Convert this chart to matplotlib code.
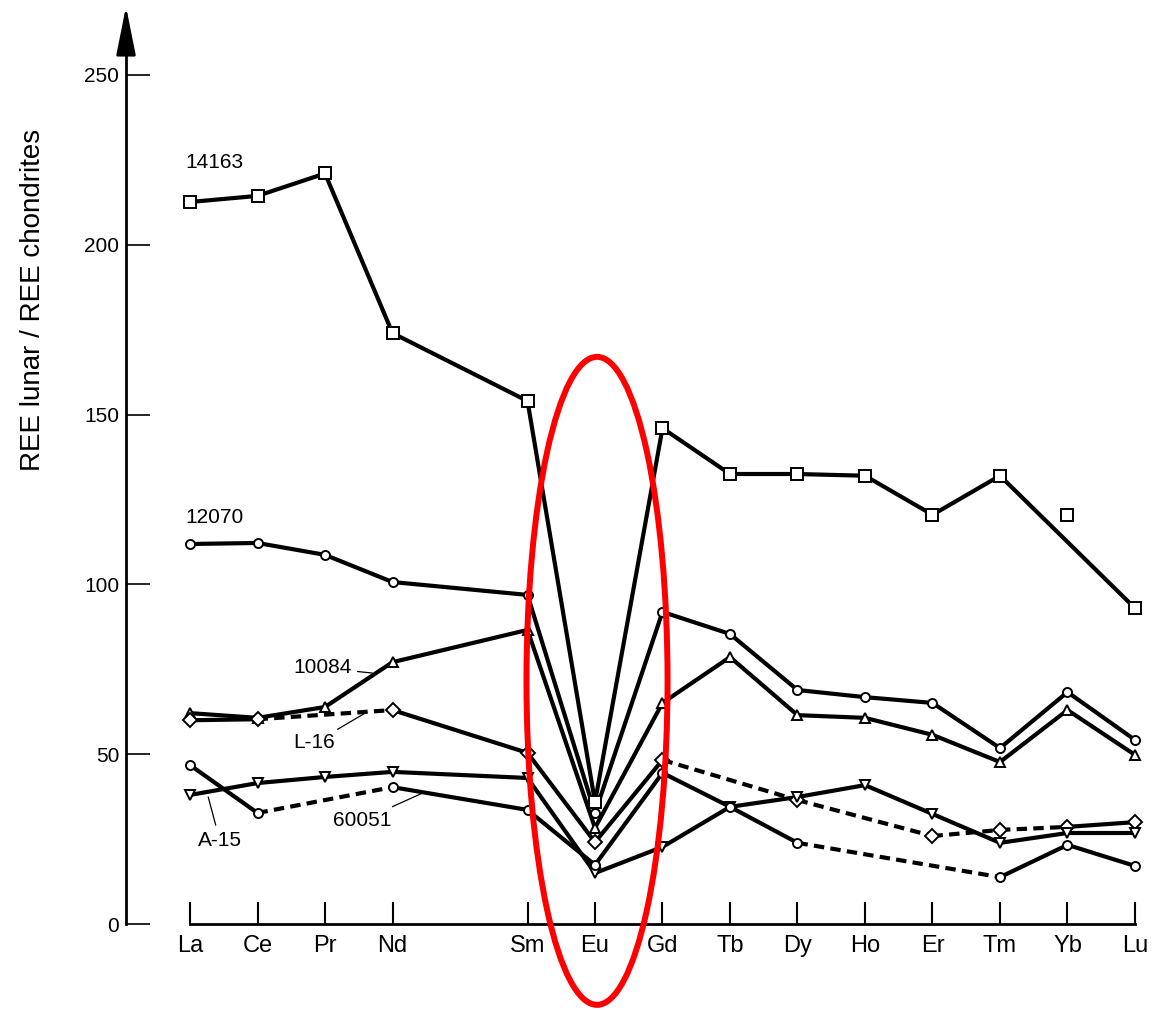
import numpy as np
import matplotlib.pyplot as plt
from matplotlib.patches import Ellipse

plt.rcParams.update({"font.family": ["Liberation Sans", "DejaVu Sans"], "font.size": 16})

nan = np.nan

ELEMENTS = ["La", "Ce", "Pr", "Nd", "Sm", "Eu", "Gd", "Tb", "Dy", "Ho", "Er", "Tm", "Yb", "Lu"]
Z = [57, 58, 59, 60, 62, 63, 64, 65, 66, 67, 68, 69, 70, 71]

ree_14163 = [212.6, 214.4, 221.0, 174.0, 154.0, 35.9, 146.0, 132.5, 132.5, 132.0, 120.5, 132.0, nan, 93.0]
ree_14163_yb = 120.5  # plotted on its own, not joined to the line
ree_12070 = [111.9, 112.2, 108.7, 100.7, 96.9, 32.7, 91.9, 85.4, 68.9, 66.8, 65.1, 51.8, 68.3, 54.2]
ree_10084 = [62.1, 60.7, 63.9, 77.1, 86.6, 28.3, 65.1, 78.6, 61.5, 60.7, 55.7, 47.7, 63.0, 49.8]
ree_L16 = [60.0, 60.3, nan, 63.0, 50.4, 24.1, 48.3, nan, 36.5, nan, 25.9, 27.7, 28.6, 30.0]
ree_A15 = [38.0, 41.5, 43.3, 44.8, 43.0, 15.0, 22.7, 34.5, 37.4, 40.9, 32.4, 23.9, 26.8, 26.8]
ree_60051 = [46.8, 32.7, nan, 40.3, 33.6, 17.4, 44.5, 34.5, 23.9, nan, nan, 13.8, 23.3, 17.1]

# values, marker, marker size, index ranges drawn dashed
SERIES = [
    (ree_14163, "s", 8.5, []),
    (ree_12070, "o", 6.5, []),
    (ree_10084, "^", 7.5, []),
    (ree_L16, "D", 7.5, [(1, 3), (6, 12)]),
    (ree_A15, "v", 7.5, []),
    (ree_60051, "o", 6.5, [(1, 3), (8, 11)]),
]


def draw_series(ax, values, marker, ms, dashed):
    x = np.array(Z, float)
    y = np.array(values, float)
    idx = np.flatnonzero(~np.isnan(y))
    for a, b in zip(idx[:-1], idx[1:]):
        is_dashed = any(lo <= a and b <= hi for lo, hi in dashed)
        ax.plot(x[[a, b]], y[[a, b]], color="black", lw=3,
                ls=(0, (2.5, 1.5)) if is_dashed else "-",
                solid_capstyle="round", zorder=2)
    ax.plot(x, y, ls="none", marker=marker, ms=ms, mfc="white",
            mec="black", mew=1.4, zorder=3)


fig = plt.figure(figsize=(11.52, 10.10), dpi=100)
ax = fig.add_axes([0, 0, 1, 1])
ax.set_xlim(54.185, 71.252)
ax.set_ylim(-25.32, 272.08)

for series in SERIES:
    draw_series(ax, *series)
ax.plot(Z[12], ree_14163_yb, ls="none", marker="s", ms=8.5, mfc="white",
        mec="black", mew=1.4, zorder=3)

# axes drawn as in the printed figure: y axis with arrow, element axis from La to Lu
ax.spines["top"].set_visible(False)
ax.spines["right"].set_visible(False)
ax.spines["left"].set_position(("data", 56.052))
ax.spines["left"].set_bounds(0, 262)
ax.spines["left"].set_linewidth(2)
ax.spines["bottom"].set_position(("data", 0))
ax.spines["bottom"].set_bounds(57, 71)
ax.spines["bottom"].set_linewidth(2)

ax.set_xticks(Z, ELEMENTS)
ax.set_yticks([0, 50, 100, 150, 200, 250])
ax.tick_params(axis="y", direction="in", length=17, width=1.2, pad=5, labelsize=15)
ax.tick_params(axis="x", direction="in", length=16, width=1.5, pad=8, labelsize=17)

ax.annotate("", xy=(56.052, 271), xytext=(56.052, 255), annotation_clip=False,
            arrowprops=dict(arrowstyle="-|>,head_length=1.5,head_width=0.3",
                            mutation_scale=20, color="black", lw=2))

fig.text(33 / 1152, 1 - 300 / 1010, "REE lunar / REE chondrites",
         rotation=90, ha="center", va="center", fontsize=20)

# sample names
ax.text(56.926, 224.1, "14163", ha="left", va="center", fontsize=15)
ax.text(56.926, 119.6, "12070", ha="left", va="center", fontsize=15)
leader = dict(arrowstyle="-", lw=0.9, color="black", shrinkA=2, shrinkB=0)
ax.annotate("10084", xy=(59.70, 73.9), xytext=(59.40, 75.4), ha="right",
            va="center", fontsize=15, arrowprops=leader)
ax.annotate("L-16", xy=(59.62, 62.4), xytext=(59.15, 53.3), ha="right",
            va="center", fontsize=15, arrowprops=leader)
ax.annotate("A-15", xy=(57.27, 37.4), xytext=(57.44, 24.7), ha="center",
            va="center", fontsize=15, arrowprops=leader)
ax.annotate("60051", xy=(60.45, 38.6), xytext=(59.99, 30.6), ha="right",
            va="center", fontsize=15, arrowprops=leader)

# Eu anomaly highlight
ax.add_patch(Ellipse((63.03, 71.6), 2.09, 190.8, fill=False, edgecolor="#ff0000",
                     lw=4.3, zorder=5, clip_on=False))

fig.savefig("out.png", dpi=100)
